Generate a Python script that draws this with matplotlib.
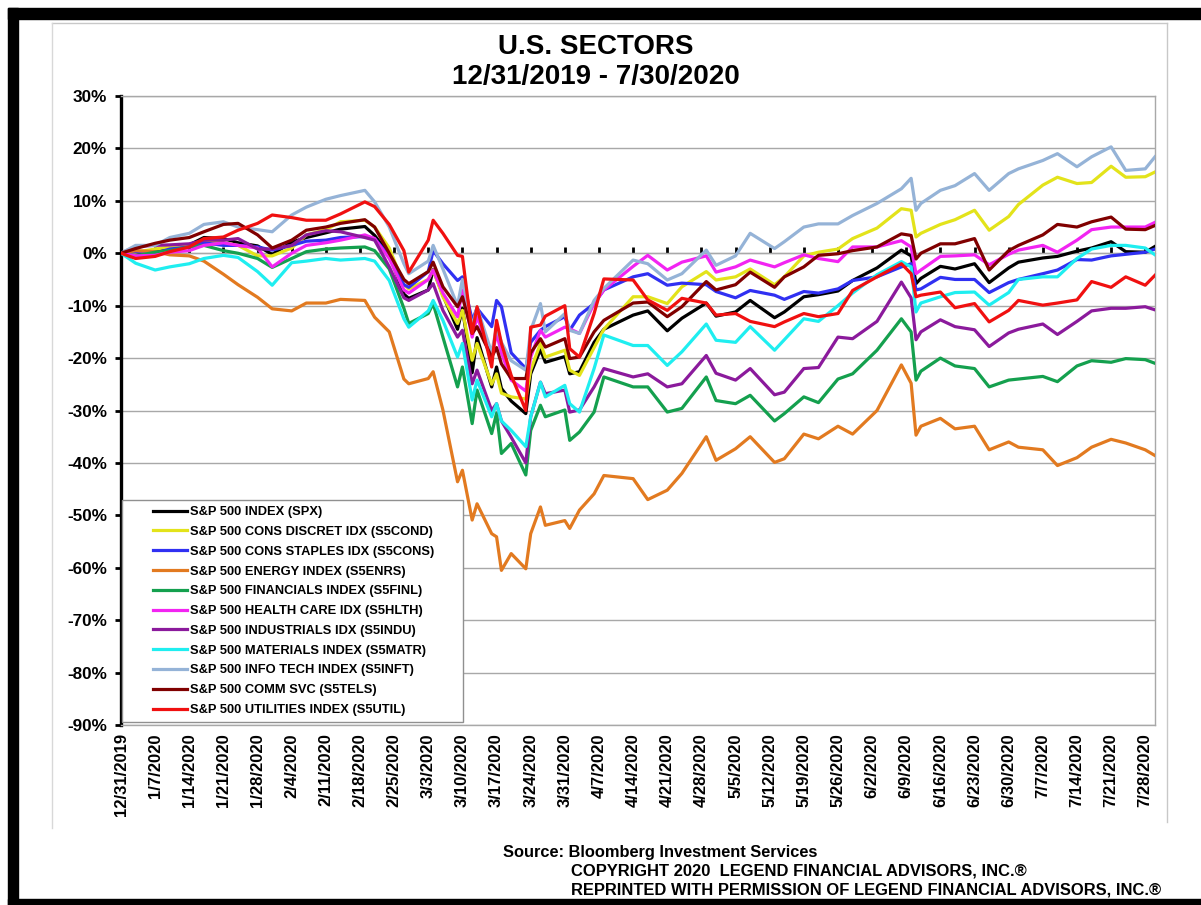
import matplotlib
matplotlib.use("Agg")
import matplotlib.pyplot as plt
import numpy as np
import pandas as pd
from matplotlib.legend_handler import HandlerLine2D
from matplotlib.lines import Line2D
from matplotlib.patches import Rectangle

plt.rcParams['font.family'] = ['Liberation Sans', 'DejaVu Sans']
plt.rcParams['font.weight'] = 'bold'

# ---------------- data ----------------
dates = ["2019-12-31", "2020-01-03", "2020-01-07", "2020-01-10", "2020-01-14", "2020-01-17", "2020-01-21",
         "2020-01-24", "2020-01-28", "2020-01-31",
         "2020-02-04", "2020-02-07", "2020-02-11", "2020-02-14", "2020-02-19", "2020-02-21", "2020-02-24",
         "2020-02-27", "2020-02-28",
         "2020-03-03", "2020-03-04", "2020-03-06", "2020-03-09", "2020-03-10", "2020-03-12", "2020-03-13",
         "2020-03-16", "2020-03-17", "2020-03-18", "2020-03-20", "2020-03-23", "2020-03-24", "2020-03-26",
         "2020-03-27", "2020-03-31",
         "2020-04-01", "2020-04-03", "2020-04-06", "2020-04-08", "2020-04-14", "2020-04-17", "2020-04-21",
         "2020-04-24", "2020-04-29",
         "2020-05-01", "2020-05-05", "2020-05-08", "2020-05-13", "2020-05-15", "2020-05-19", "2020-05-22",
         "2020-05-26", "2020-05-29",
         "2020-06-03", "2020-06-08", "2020-06-10", "2020-06-11", "2020-06-12", "2020-06-16", "2020-06-19",
         "2020-06-23", "2020-06-26", "2020-06-30",
         "2020-07-02", "2020-07-07", "2020-07-10", "2020-07-14", "2020-07-17", "2020-07-21", "2020-07-24",
         "2020-07-28", "2020-07-30"]

spx = [0, 0.1, 0.2, 1.1, 1.6, 3.0, 2.8, 2.0, 1.4, -0.2,
       2.1, 3.0, 3.9, 4.6, 5.1, 3.4, -0.2, -7.8, -8.6,
       -7.0, -3.1, -8.0, -14.5, -10.5, -22.8, -16.1, -25.5, -21.7, -25.8, -28.2, -30.6, -23.0, -18.4, -20.8, -19.7,
       -23.0, -22.6, -17.0, -14.5, -11.8, -11.0, -14.8, -12.4, -9.5,
       -12.0, -11.2, -9.0, -12.3, -11.2, -8.3, -7.9, -7.2, -5.2,
       -2.8, 0.6, -0.5, -5.8, -4.8, -2.5, -3.0, -2.0, -5.6, -2.8,
       -1.7, -0.9, -0.6, 0.4, 1.0, 2.2, 0.3, 0.2, 1.3]

cons_discret = [0, 0.2, 0.8, 1.2, 1.5, 2.2, 2.0, 1.5, -0.5, -0.5,
                1.0, 3.5, 4.5, 6.0, 6.3, 5.0, 1.0, -6.0, -6.8,
                -5.0, -3.2, -8.3, -13.4, -10.9, -20.4, -17.2, -25.0, -23.0, -26.7, -27.4, -27.8, -22.3, -17.2, -19.8, -18.5,
                -22.3, -23.3, -18.0, -14.5, -8.3, -8.3, -9.6, -6.4, -3.5,
                -5.1, -4.5, -3.0, -6.0, -4.5, -0.5, 0.2, 0.8, 2.8,
                4.8, 8.5, 8.2, 3.1, 3.8, 5.5, 6.4, 8.2, 4.4, 7.0,
                9.3, 13.0, 14.5, 13.3, 13.5, 16.6, 14.5, 14.6, 15.5]

cons_staples = [0, 0.3, 0.0, 0.8, 1.2, 2.0, 1.5, 1.5, 1.2, 0.6,
                1.5, 2.3, 2.5, 3.0, 3.2, 2.8, -0.5, -6.0, -6.5,
                -3.5, 0.5, -2.0, -5.2, -4.5, -12.8, -10.5, -14.0, -9.0, -10.2, -19.0, -22.0, -17.0, -14.7, -14.0, -12.1,
                -14.7, -11.8, -9.6, -7.0, -4.5, -3.9, -6.1, -5.7, -6.0,
                -7.3, -8.5, -7.1, -8.0, -8.8, -7.3, -7.6, -6.8, -5.2,
                -4.5, -2.6, -2.0, -7.0, -6.8, -4.6, -5.0, -5.0, -7.5, -5.6,
                -5.0, -3.9, -3.2, -1.2, -1.3, -0.5, -0.2, 0.2, 0.8]

energy = [0, 0.5, 0.3, -0.3, -0.5, -1.5, -4.0, -6.0, -8.4, -10.6,
          -11.0, -9.5, -9.5, -8.8, -9.0, -12.2, -15.0, -24.0, -24.9,
          -23.9, -22.6, -29.9, -43.6, -41.4, -50.9, -47.8, -53.5, -54.1, -60.5, -57.3, -60.2, -53.5, -48.4, -51.9, -51.0,
          -52.5, -49.0, -45.9, -42.4, -43.0, -47.0, -45.2, -42.0, -35.0,
          -39.5, -37.3, -35.0, -39.9, -39.2, -34.5, -35.4, -33.0, -34.5,
          -30.0, -21.3, -24.8, -34.7, -33.0, -31.5, -33.5, -33.0, -37.5, -36.0,
          -37.0, -37.5, -40.5, -39.0, -37.0, -35.5, -36.2, -37.5, -38.6]

financials = [0, -0.5, 0.2, 0.5, 1.2, 1.5, 0.5, 0.0, -1.0, -2.7,
              -1.0, 0.3, 0.8, 1.0, 1.2, 0.5, -3.0, -10.5, -13.4,
              -11.5, -9.6, -16.0, -25.5, -21.7, -32.5, -26.1, -34.4, -30.5, -38.2, -36.3, -42.3, -33.8, -29.0, -31.2, -29.9,
              -35.7, -34.1, -30.3, -23.6, -25.5, -25.5, -30.3, -29.6, -23.6,
              -28.1, -28.7, -27.1, -32.0, -30.6, -27.4, -28.5, -24.0, -23.0,
              -18.5, -12.5, -15.0, -24.2, -22.5, -20.0, -21.5, -22.0, -25.5, -24.2,
              -24.0, -23.5, -24.5, -21.5, -20.5, -20.8, -20.1, -20.3, -21.0]

health_care = [0, -0.5, -0.4, 0.2, 0.5, 1.5, 2.0, 1.5, 1.0, -2.6,
               0.0, 1.5, 2.0, 2.5, 3.5, 2.8, -1.0, -7.0, -7.6,
               -5.0, -3.2, -7.6, -12.1, -7.0, -16.0, -12.1, -19.8, -15.3, -19.0, -24.2, -26.3, -19.8, -14.7, -16.0, -14.1,
               -14.4, -15.3, -9.6, -7.0, -2.5, -0.4, -3.2, -1.7, -0.5,
               -3.6, -2.6, -1.3, -2.6, -1.8, -0.3, -1.0, -1.6, 1.2,
               1.2, 2.4, 1.2, -3.9, -3.2, -0.6, -0.5, -0.3, -2.2, -0.2,
               0.6, 1.5, 0.2, 2.5, 4.5, 5.0, 5.0, 5.0, 5.9]

industrials = [0, 1.3, 1.5, 1.6, 1.8, 2.5, 2.5, 2.8, 0.8, 0.8,
               1.5, 3.5, 4.3, 4.1, 3.0, 2.5, -2.6, -8.5, -9.0,
               -7.0, -5.8, -10.9, -16.0, -14.7, -24.9, -22.3, -30.0, -28.7, -32.0, -35.1, -40.0, -31.2, -24.6, -26.8, -26.1,
               -30.3, -29.9, -25.5, -22.0, -23.6, -23.0, -25.5, -24.9, -19.5,
               -22.9, -24.2, -22.0, -27.0, -26.5, -22.0, -21.8, -16.0, -16.3,
               -13.0, -5.5, -8.5, -16.5, -15.0, -12.7, -14.0, -14.6, -17.8, -15.2,
               -14.5, -13.5, -15.5, -13.0, -11.0, -10.5, -10.5, -10.2, -10.8]

materials = [0, -1.9, -3.2, -2.6, -2.0, -1.0, -0.4, -0.8, -3.5, -6.1,
             -1.8, -1.5, -1.0, -1.3, -1.0, -1.5, -5.2, -12.5, -14.1,
             -11.0, -9.0, -12.8, -19.8, -17.2, -28.0, -24.2, -31.2, -28.7, -32.0, -33.8, -36.9, -31.2, -24.6, -27.4, -25.2,
             -28.7, -30.3, -22.0, -15.6, -17.6, -17.6, -21.4, -18.8, -13.5,
             -16.6, -17.0, -14.0, -18.5, -16.5, -12.5, -13.0, -10.0, -7.6,
             -4.1, -1.6, -2.6, -11.2, -9.5, -8.3, -7.5, -7.4, -9.9, -7.5,
             -5.0, -4.5, -4.5, -1.0, 0.8, 1.5, 1.5, 1.0, -0.3]

info_tech = [0, 1.5, 1.5, 3.0, 3.8, 5.5, 6.0, 5.0, 4.5, 4.1,
             7.3, 8.8, 10.3, 11.0, 12.0, 9.8, 5.0, -2.0, -3.9,
             -1.5, 1.5, -3.0, -10.0, -5.0, -14.0, -10.3, -19.0, -14.1, -17.0, -20.5, -22.3, -14.7, -9.6, -15.0, -11.5,
             -14.7, -15.3, -9.0, -6.7, -1.3, -2.0, -5.1, -3.9, 0.6,
             -2.3, -0.5, 3.8, 0.9, 2.2, 5.0, 5.6, 5.6, 7.2,
             9.5, 12.3, 14.3, 8.2, 9.5, 12.0, 12.9, 15.2, 12.0, 15.2,
             16.1, 17.7, 19.0, 16.5, 18.4, 20.3, 15.8, 16.1, 18.4]

comm_svc = [0, 0.9, 1.9, 2.5, 3.0, 4.1, 5.5, 5.7, 3.5, 1.0,
            2.5, 4.4, 5.0, 5.7, 6.4, 5.0, 0.0, -5.0, -5.8,
            -3.5, -1.7, -6.4, -10.2, -8.3, -15.3, -14.0, -19.8, -18.0, -21.1, -23.9, -23.9, -19.0, -16.3, -17.9, -16.3,
            -20.1, -19.8, -15.0, -12.8, -9.5, -9.3, -12.1, -10.2, -5.4,
            -7.0, -6.0, -3.6, -6.5, -4.5, -2.6, -0.4, -0.1, 0.5,
            1.2, 3.7, 3.4, -1.1, 0.0, 1.8, 1.8, 2.8, -3.2, 0.5,
            1.5, 3.5, 5.5, 5.0, 6.0, 6.9, 4.6, 4.5, 5.3]

utilities = [0, -1.0, -0.6, 0.3, 1.2, 2.8, 3.1, 4.4, 5.7, 7.3,
             6.8, 6.3, 6.3, 7.5, 9.8, 8.9, 5.5, 0.5, -3.6,
             2.5, 6.3, 3.8, -0.4, -0.6, -15.3, -10.2, -21.7, -12.8, -17.2, -23.3, -30.0, -14.1, -13.7, -12.0, -10.0,
             -18.2, -19.8, -11.5, -4.9, -5.1, -8.9, -10.9, -8.6, -9.5,
             -11.8, -11.5, -13.0, -14.0, -13.1, -11.5, -12.1, -11.5, -7.1,
             -4.5, -2.0, -3.9, -8.3, -8.0, -7.4, -10.4, -9.6, -13.1, -10.9,
             -9.0, -9.9, -9.5, -8.9, -5.4, -6.5, -4.5, -6.1, -4.2]

labels = ["S&P 500 INDEX (SPX)", "S&P 500 CONS DISCRET IDX (S5COND)", "S&P 500 CONS STAPLES IDX (S5CONS)",
          "S&P 500 ENERGY INDEX (S5ENRS)", "S&P 500 FINANCIALS INDEX (S5FINL)", "S&P 500 HEALTH CARE IDX (S5HLTH)",
          "S&P 500 INDUSTRIALS IDX (S5INDU)", "S&P 500 MATERIALS INDEX (S5MATR)", "S&P 500 INFO TECH INDEX (S5INFT)",
          "S&P 500 COMM SVC (S5TELS)", "S&P 500 UTILITIES INDEX (S5UTIL)"]
series = [spx, cons_discret, cons_staples, energy, financials, health_care, industrials, materials, info_tech,
          comm_svc, utilities]
colors = ["#000000", "#E3E31A", "#3030F2", "#E27A20", "#14A04E", "#F224F2", "#8B1A9C", "#1FEEF0", "#95B3D7",
          "#800000", "#F01010"]

y_ticks = [30, 20, 10, 0, -10, -20, -30, -40, -50, -60, -70, -80, -90]
x_start, x_end = "2019-12-31", "2020-07-30"
x_tick_dates = pd.date_range("2019-12-31", "2020-07-28", freq="7D")
x_tick_labels = [f"{d.month}/{d.day}/{d.year}" for d in x_tick_dates]

# ---------------- figure ----------------
W, H = 1201, 905
fig = plt.figure(figsize=(W / 100, H / 100), dpi=100)
fig.patch.set_facecolor("white")

# outer black frame & chart-area border
fig.patches.append(Rectangle((8 / W, 1 - 19 / H), 1, 11 / H, transform=fig.transFigure, color="black", zorder=0))
fig.patches.append(Rectangle((8 / W, 0), 10 / W, 1 - 8 / H, transform=fig.transFigure, color="black", zorder=0))
fig.patches.append(Rectangle((8 / W, 0), 1, 6 / H, transform=fig.transFigure, color="black", zorder=0))
fig.lines.append(Line2D([52 / W, 1167 / W], [1 - 23 / H, 1 - 23 / H], transform=fig.transFigure, color="#C8C8C8", lw=1))
fig.lines.append(Line2D([52 / W, 52 / W], [1 - 23 / H, 1 - 828 / H], transform=fig.transFigure, color="#D8D8D8", lw=1))
fig.lines.append(Line2D([1167 / W, 1167 / W], [1 - 23 / H, 1 - 822 / H], transform=fig.transFigure, color="#C8C8C8", lw=1))

ax = fig.add_axes([121 / W, 1 - 725 / H, (1155 - 121) / W, (725 - 96) / H])
dts = pd.to_datetime(dates)
for vals, col, lab in zip(series, colors, labels):
    ax.plot(dts, vals, color=col, lw=2.3, label=lab, solid_joinstyle="round", zorder=3)

ax.set_xlim(pd.Timestamp(x_start), pd.Timestamp(x_end))
ax.set_ylim(-90, 30)
ax.set_yticks(y_ticks)
ax.set_yticklabels([f"{v}%" for v in y_ticks], fontsize=12.3, fontweight="bold")
ax.yaxis.grid(True, color="#A8A8A8", lw=1)
ax.set_axisbelow(True)
ax.tick_params(axis="y", direction="out", length=4, width=2, color="black", pad=6)

ax.set_xticks(x_tick_dates)
ax.set_xticklabels(x_tick_labels, rotation=90, fontsize=12, fontweight="bold", va="top", ha="center")
ax.tick_params(axis="x", length=0, pad=6)

for s in ["top", "right", "bottom"]:
    ax.spines[s].set_color("#A8A8A8")
    ax.spines[s].set_linewidth(1)
ax.spines["left"].set_color("black")
ax.spines["left"].set_linewidth(2.4)

# zero-line category axis with weekly ticks
sec = ax.secondary_xaxis(0.75)
sec.set_xticks(x_tick_dates)
sec.set_xticklabels([])
sec.tick_params(axis="x", direction="out", length=4, width=2, color="black")
sec.spines["bottom"].set_color("black")
sec.spines["bottom"].set_linewidth(2.4)


class ShiftedLine(HandlerLine2D):
    def create_artists(self, legend, orig_handle, xdescent, ydescent, width, height, fontsize, trans):
        arts = super().create_artists(legend, orig_handle, xdescent, ydescent, width, height, fontsize, trans)
        for a in arts:
            if isinstance(a, Line2D):
                xd = np.asarray(a.get_xdata(), dtype=float)
                if len(xd) >= 2:
                    x0, x1 = xd[0], xd[-1]
                    a.set_xdata(np.linspace(x0 + 0.42 * (x1 - x0), x1, len(xd)))
        return arts


handles, labs = ax.get_legend_handles_labels()
leg = ax.legend(handles, labs, loc="lower left",
                bbox_to_anchor=(0.001, 0.005, (463 - 122) / 1034, 0.35), mode="expand",
                prop={"size": 9.3, "weight": "bold"}, frameon=True, fancybox=False,
                edgecolor="#909090", framealpha=1, borderpad=0.45, labelspacing=0.6,
                handlelength=4.6, handletextpad=0.25, borderaxespad=0,
                handler_map={Line2D: ShiftedLine()})
leg.get_frame().set_linewidth(1)
leg.set_zorder(5)

# titles & notes
fig.text(596 / W, 1 - 47 / H, "U.S. SECTORS", ha="center", va="center", fontsize=20, fontweight="bold")
fig.text(596 / W, 1 - 77 / H, "12/31/2019 - 7/30/2020", ha="center", va="center", fontsize=20, fontweight="bold")
fig.text(503 / W, 1 - 852 / H, "Source: Bloomberg Investment Services", ha="left", va="center", fontsize=11.8,
         fontweight="bold")
fig.text(571 / W, 1 - 871 / H, "COPYRIGHT 2020  LEGEND FINANCIAL ADVISORS, INC.\u00ae", ha="left", va="center",
         fontsize=11.85, fontweight="bold")
fig.text(571 / W, 1 - 890 / H, "REPRINTED WITH PERMISSION OF LEGEND FINANCIAL ADVISORS, INC.\u00ae", ha="left",
         va="center", fontsize=11.85, fontweight="bold")

fig.savefig("out.png", dpi=100)
